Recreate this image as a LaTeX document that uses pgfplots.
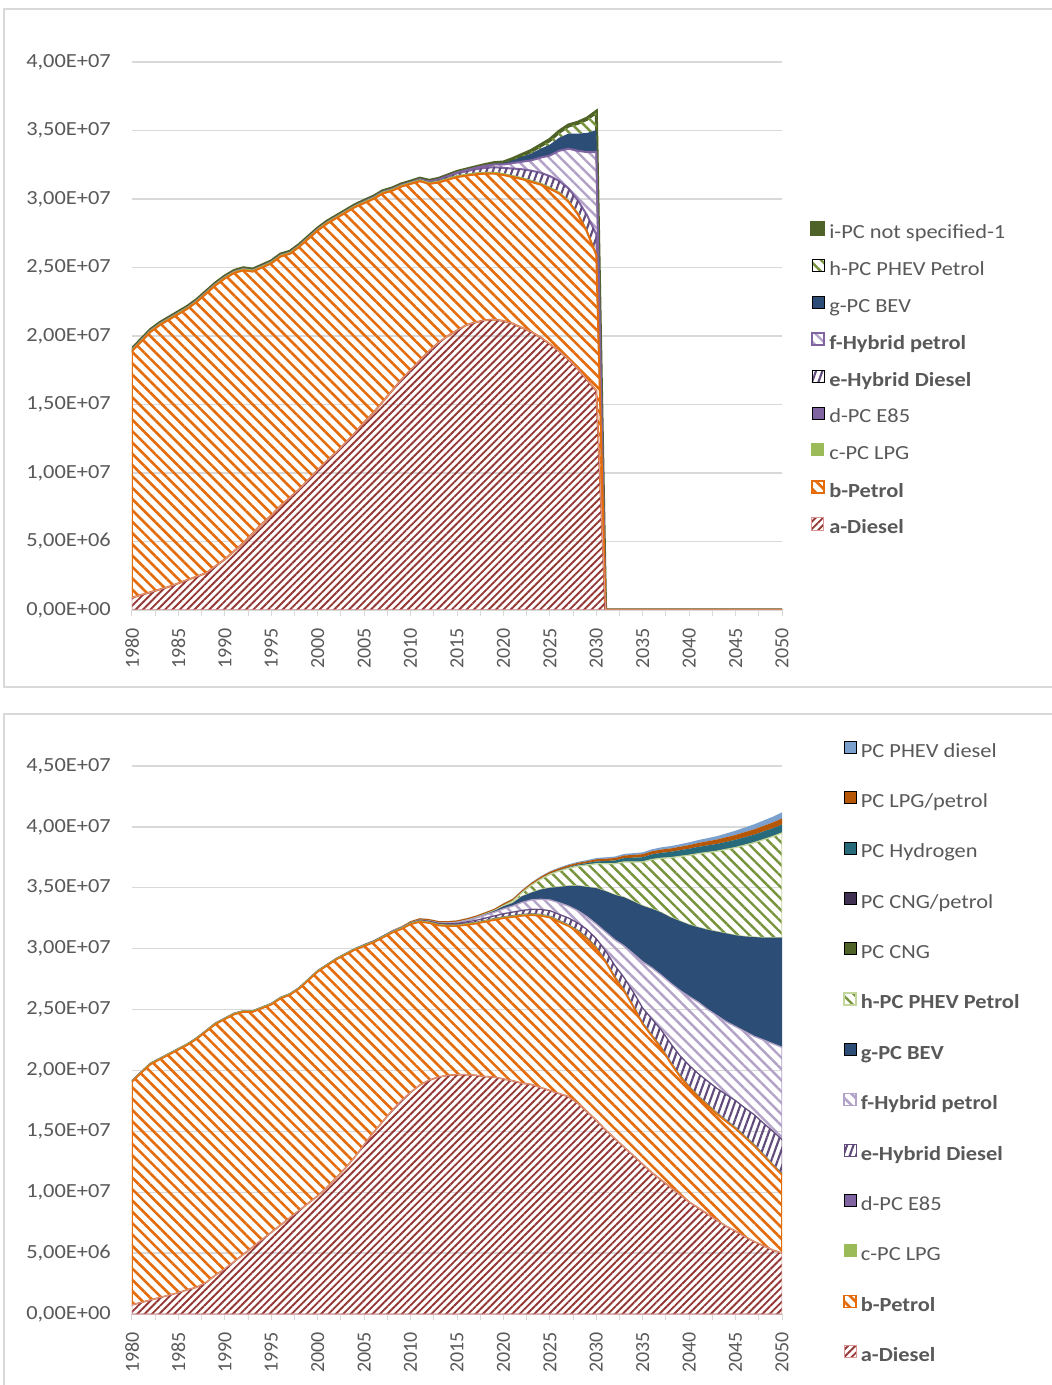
\documentclass[border=0pt]{standalone}
\usepackage{pgfplots}
\pgfplotsset{compat=1.18}
\usepackage{pgfplotstable}
\usetikzlibrary{patterns.meta}
\usepackage{fontspec}
\setmainfont{Carlito}
\newfontfamily\wide{Carlito}[FakeStretch=1.12]

\definecolor{txt}{HTML}{595959}
\definecolor{gridc}{HTML}{D9D9D9}
\definecolor{dieselC}{HTML}{953735}
\definecolor{dieselB}{HTML}{D99694}
\definecolor{petrolC}{HTML}{E46C0A}
\definecolor{lpgC}{HTML}{9BBB59}
\definecolor{e85C}{HTML}{8064A2}
\definecolor{hdC}{HTML}{604A7B}
\definecolor{hpC}{HTML}{B3A2C7}
\definecolor{bevC}{HTML}{2C4D75}
\definecolor{phC}{HTML}{77933C}
\definecolor{phB}{HTML}{C3D69B}
\definecolor{nsC}{HTML}{4F6228}
\definecolor{cngC}{HTML}{4F6228}
\definecolor{cngpC}{HTML}{403152}
\definecolor{h2C}{HTML}{276A7C}
\definecolor{lpgpC}{HTML}{B65708}
\definecolor{phdC}{HTML}{7BA0CD}

% Chart 1 (values in millions)
\pgfplotstableread{
year D P LPG E85 HD HP BEV PH NS
1980 0.9 18.0 0.1 0 0 0 0 0 0.08
1981 1.1 18.5 0.1 0 0 0 0 0 0.08
1982 1.3 19.0 0.1 0 0 0 0 0 0.08
1983 1.5 19.3 0.1 0 0 0 0 0 0.08
1984 1.7 19.5 0.1 0 0 0 0 0 0.08
1985 1.95 19.65 0.1 0 0 0 0 0 0.08
1986 2.2 19.8 0.1 0 0 0 0 0 0.08
1987 2.45 20.05 0.1 0 0 0 0 0 0.08
1988 2.7 20.4 0.1 0 0 0 0 0 0.08
1989 3.2 20.5 0.1 0 0 0 0 0 0.08
1990 3.7 20.5 0.1 0 0 0 0 0 0.08
1991 4.3 20.3 0.1 0 0 0 0 0 0.08
1992 4.9 19.9 0.1 0 0 0 0 0 0.08
1993 5.6 19.1 0.1 0 0 0 0 0 0.08
1994 6.3 18.7 0.1 0 0 0 0 0 0.08
1995 6.9 18.4 0.1 0 0 0 0 0 0.08
1996 7.6 18.2 0.1 0 0 0 0 0 0.08
1997 8.2 17.8 0.1 0 0 0 0 0 0.08
1998 8.8 17.7 0.1 0 0 0 0 0 0.08
1999 9.5 17.6 0.1 0 0 0 0 0 0.08
2000 10.2 17.5 0.1 0 0 0 0 0 0.08
2001 10.9 17.3 0.1 0 0 0 0 0 0.08
2002 11.5 17.1 0.1 0 0 0 0 0 0.08
2003 12.2 16.8 0.1 0 0 0 0 0 0.08
2004 12.9 16.5 0.1 0 0 0 0 0 0.08
2005 13.7 16.0 0.1 0.02 0 0 0 0 0.08
2006 14.4 15.6 0.1 0.02 0 0 0 0 0.08
2007 15.2 15.2 0.1 0.02 0 0 0 0 0.08
2008 16.0 14.6 0.1 0.02 0 0 0 0 0.08
2009 16.8 14.1 0.1 0.02 0 0 0 0 0.08
2010 17.5 13.6 0.1 0.02 0 0 0 0 0.08
2011 18.2 13.1 0.1 0.02 0.02 0 0 0 0.08
2012 18.9 12.2 0.1 0.02 0.05 0.01 0 0 0.08
2013 19.5 11.7 0.1 0.02 0.08 0.02 0 0 0.08
2014 20.0 11.4 0.1 0.02 0.12 0.03 0 0 0.08
2015 20.4 11.2 0.1 0.02 0.16 0.05 0 0 0.08
2016 20.8 10.9 0.1 0.02 0.2 0.08 0 0 0.08
2017 21.0 10.8 0.1 0.02 0.25 0.1 0 0 0.08
2018 21.15 10.7 0.1 0.02 0.3 0.15 0.01 0 0.08
2019 21.2 10.65 0.1 0.02 0.35 0.2 0.05 0 0.08
2020 21.1 10.65 0.1 0.02 0.4 0.25 0.1 0 0.08
2021 20.9 10.7 0.1 0.02 0.5 0.4 0.2 0.05 0.08
2022 20.6 10.85 0.1 0.02 0.6 0.55 0.35 0.1 0.08
2023 20.3 10.95 0.1 0.02 0.7 0.75 0.5 0.15 0.08
2024 19.9 11.15 0.1 0.02 0.75 1.1 0.65 0.2 0.08
2025 19.4 11.35 0.1 0.02 0.8 1.5 0.8 0.3 0.08
2026 18.9 11.5 0.1 0.02 0.8 2.2 0.95 0.4 0.08
2027 18.3 11.5 0.1 0.02 0.85 2.9 1.1 0.55 0.08
2028 17.6 11.3 0.1 0.02 0.9 3.6 1.25 0.75 0.08
2029 16.8 10.8 0.1 0.02 1.1 4.6 1.4 1.0 0.08
2030 16.0 9.9 0.1 0.02 1.4 6.0 1.6 1.3 0.08
2031 0 0 0 0 0 0 0 0 0
2050 0 0 0 0 0 0 0 0 0
}\tabA

% Chart 2 (values in millions)
\pgfplotstableread{
year D P LPG E85 HD HP BEV PH CNG CNGP H2 LPGP PHD
1980 0.75 18.3 0.1 0 0 0 0 0 0 0 0 0 0
1981 0.95 18.85 0.1 0 0 0 0 0 0 0 0 0 0
1982 1.15 19.35 0.1 0 0 0 0 0 0 0 0 0 0
1983 1.35 19.55 0.1 0 0 0 0 0 0 0 0 0 0
1984 1.55 19.75 0.1 0 0 0 0 0 0 0 0 0 0
1985 1.75 19.95 0.1 0 0 0 0 0 0 0 0 0 0
1986 2.0 20.1 0.1 0 0 0 0 0 0 0 0 0 0
1987 2.2 20.4 0.1 0 0 0 0 0 0 0 0 0 0
1988 2.6 20.6 0.1 0 0 0 0 0 0 0 0 0 0
1989 3.2 20.6 0.1 0 0 0 0 0 0 0 0 0 0
1990 3.7 20.5 0.1 0 0 0 0 0 0 0 0 0 0
1991 4.3 20.3 0.1 0 0 0 0 0 0 0 0 0 0
1992 4.9 19.9 0.1 0 0 0 0 0 0 0 0 0 0
1993 5.5 19.3 0.1 0 0 0 0 0 0 0 0 0 0
1994 6.1 19.0 0.1 0 0 0 0 0 0 0 0 0 0
1995 6.7 18.7 0.1 0 0 0 0 0 0 0 0 0 0
1996 7.3 18.6 0.1 0 0 0 0 0 0 0 0 0 0
1997 7.9 18.3 0.1 0 0 0 0 0 0 0 0 0 0
1998 8.5 18.2 0.1 0 0 0 0 0 0 0 0 0 0
1999 9.1 18.3 0.1 0 0 0 0 0 0 0 0 0 0
2000 9.7 18.4 0.1 0 0 0 0 0 0 0 0 0 0
2001 10.4 18.2 0.1 0 0 0 0 0 0 0 0 0 0
2002 11.2 17.9 0.1 0 0 0 0 0 0 0 0 0 0
2003 12.0 17.5 0.1 0 0 0 0 0 0 0 0 0 0
2004 12.9 17.0 0.1 0 0 0 0 0 0 0 0 0 0
2005 13.9 16.3 0.1 0.02 0 0 0 0 0.03 0 0 0 0
2006 14.9 15.6 0.1 0.02 0 0 0 0 0.03 0 0 0 0
2007 15.8 15.1 0.1 0.02 0 0 0 0 0.03 0 0 0 0
2008 16.7 14.6 0.1 0.02 0 0 0 0 0.03 0 0 0.05 0
2009 17.5 14.1 0.1 0.02 0 0 0 0 0.03 0 0 0.08 0
2010 18.2 13.8 0.1 0.02 0 0 0 0 0.03 0.01 0 0.1 0
2011 18.8 13.4 0.1 0.02 0.02 0 0 0 0.03 0.01 0 0.12 0
2012 19.2 12.9 0.1 0.02 0.04 0.01 0 0 0.03 0.01 0 0.12 0
2013 19.45 12.45 0.1 0.02 0.06 0.03 0 0 0.03 0.01 0 0.12 0
2014 19.6 12.25 0.1 0.02 0.08 0.05 0 0 0.03 0.01 0 0.12 0
2015 19.65 12.2 0.1 0.02 0.1 0.08 0.01 0 0.03 0.01 0 0.12 0
2016 19.65 12.3 0.1 0.02 0.12 0.12 0.02 0 0.03 0.01 0 0.12 0
2017 19.6 12.45 0.1 0.02 0.15 0.18 0.04 0 0.03 0.01 0 0.12 0
2018 19.5 12.7 0.1 0.02 0.18 0.25 0.07 0 0.03 0.01 0 0.12 0
2019 19.45 12.9 0.1 0.02 0.21 0.3 0.12 0.01 0.03 0.01 0 0.12 0
2020 19.3 13.2 0.1 0.02 0.25 0.4 0.2 0.05 0.03 0.01 0 0.15 0.01
2021 19.15 13.45 0.1 0.02 0.28 0.5 0.25 0.15 0.03 0.01 0 0.15 0.02
2022 18.95 13.75 0.1 0.02 0.32 0.66 0.5 0.3 0.03 0.01 0 0.15 0.03
2023 18.85 13.9 0.1 0.02 0.36 0.77 0.6 0.6 0.03 0.01 0 0.15 0.04
2024 18.6 14.1 0.1 0.02 0.4 0.83 0.8 0.85 0.03 0.01 0 0.15 0.05
2025 18.35 14.2 0.1 0.02 0.45 0.88 1.0 1.1 0.03 0.01 0.02 0.15 0.05
2026 18.1 14.1 0.1 0.02 0.5 0.95 1.3 1.3 0.03 0.01 0.04 0.15 0.06
2027 17.85 14.0 0.1 0.02 0.55 0.98 1.65 1.45 0.03 0.01 0.06 0.15 0.07
2028 17.3 14.1 0.1 0.02 0.6 1.0 2.05 1.6 0.03 0.01 0.09 0.15 0.08
2029 16.6 14.2 0.1 0.02 0.65 1.05 2.45 1.8 0.03 0.01 0.12 0.15 0.09
2030 15.9 14.1 0.1 0.02 0.7 1.2 2.95 2.0 0.03 0.01 0.15 0.18 0.1
2031 15.1 13.8 0.1 0.02 0.8 1.55 3.35 2.25 0.03 0.01 0.19 0.19 0.11
2032 14.4 13.2 0.1 0.02 0.9 2.1 3.7 2.55 0.03 0.01 0.23 0.2 0.12
2033 13.7 12.8 0.1 0.02 1.0 2.6 4.0 2.9 0.03 0.01 0.27 0.22 0.13
2034 13.0 12.2 0.1 0.02 1.1 3.15 4.3 3.25 0.03 0.01 0.31 0.23 0.14
2035 12.3 11.5 0.1 0.02 1.2 3.8 4.6 3.6 0.03 0.01 0.35 0.25 0.15
2036 11.6 11.2 0.1 0.02 1.3 4.2 4.85 4.05 0.03 0.01 0.38 0.26 0.16
2037 11.0 10.8 0.1 0.02 1.4 4.5 5.15 4.45 0.03 0.01 0.41 0.27 0.18
2038 10.4 10.2 0.1 0.02 1.5 4.95 5.4 4.9 0.03 0.01 0.44 0.28 0.19
2039 9.8 9.7 0.1 0.02 1.6 5.35 5.7 5.3 0.03 0.01 0.47 0.29 0.2
2040 9.2 9.4 0.1 0.02 1.7 5.65 5.9 5.7 0.03 0.01 0.5 0.3 0.22
2041 8.7 9.1 0.1 0.02 1.8 5.88 6.15 6.05 0.03 0.01 0.52 0.32 0.24
2042 8.2 8.9 0.1 0.02 1.9 5.88 6.55 6.35 0.03 0.01 0.54 0.34 0.26
2043 7.7 8.7 0.1 0.02 2.0 5.98 6.9 6.6 0.03 0.01 0.56 0.36 0.28
2044 7.2 8.6 0.1 0.02 2.1 5.98 7.25 6.9 0.03 0.01 0.58 0.38 0.31
2045 6.8 8.4 0.1 0.02 2.2 6.08 7.5 7.2 0.03 0.01 0.6 0.4 0.35
2046 6.35 8.15 0.1 0.02 2.3 6.28 7.8 7.5 0.03 0.01 0.61 0.42 0.38
2047 5.95 7.85 0.1 0.02 2.45 6.43 8.15 7.75 0.03 0.01 0.62 0.44 0.41
2048 5.6 7.4 0.1 0.02 2.55 6.83 8.4 8.05 0.03 0.01 0.63 0.46 0.44
2049 5.25 6.95 0.1 0.02 2.7 7.18 8.7 8.3 0.03 0.01 0.64 0.48 0.47
2050 5.0 6.4 0.1 0.02 2.8 7.58 9.0 8.6 0.03 0.01 0.65 0.5 0.5
}\tabB

\pgfplotsset{
  mychart/.style={
    scale only axis, width=487.5pt, height=411pt,
    xmin=1980, xmax=2050, ymin=0,
    stack plots=y, no markers,
    axis x line*=bottom, axis y line*=left,
    x axis line style={draw=gridc, line width=1pt},
    y axis line style={draw=none},
    xtick={1980,1985,...,2050},
    minor xtick={1982.5,1987.5,...,2047.5},
    xtick align=outside, ytick align=inside,
    major tick length=4.5pt, minor tick length=4.5pt,
    xtick style={draw=gridc, line width=0.75pt},
    every minor tick/.append style={draw=gridc, line width=0.75pt},
    ytick style={draw=none},
    ymajorgrids, grid style={draw=gridc, line width=1pt},
    tick label style={font=\fontsize{15}{18}\selectfont, text=txt},
    x tick label style={rotate=90, anchor=east, inner sep=0pt,
      /pgf/number format/1000 sep={}, /pgf/number format/assume math mode=true},
    xticklabel shift=9pt,
    y tick label style={anchor=east, inner sep=0pt, font=\wide\fontsize{15}{18}\selectfont},
    yticklabel shift=15.75pt,
    legend image code/.code={\draw[##1] (0pt,-1pt) rectangle (9pt,8pt);},
    reverse legend,
    legend cell align=left,
    legend style={draw=none, fill=none, font=\wide\fontsize{15}{18}\selectfont,
      text=txt, inner sep=0pt, anchor=north west,
      nodes={inner sep=0pt, text height=11pt, text depth=3pt},
      /tikz/every odd column/.append style={column sep=3pt}},
  }
}

\begin{document}
\begin{tikzpicture}
\useasboundingbox (0pt,0pt) rectangle (789pt,1038.75pt);
\fill[white] (0pt,0pt) rectangle (789pt,1038.75pt);
\draw[gridc, line width=1pt] (3pt,523.5pt) rectangle (795pt,1032pt);
\draw[gridc, line width=1pt] (3pt,-6pt) rectangle (795pt,503.25pt);

% ---------- Chart 1 ----------
\begin{axis}[mychart, at={(99pt,581.25pt)}, anchor=south west,
  ymax=40, ytick={0,5,...,40},
  yticklabels={{0,00E+00},{5,00E+06},{1,00E+07},{1,50E+07},{2,00E+07},{2,50E+07},{3,00E+07},{3,50E+07},{4,00E+07}},
  legend style={at={(1.0431,0.7099)}, /tikz/row sep=12.3pt}]
\addplot[draw=dieselB, line width=0.75pt, pattern={Lines[angle=45,distance=3.9pt,line width=1.4pt]}, pattern color=dieselC] table[x=year,y=D]{\tabA} \closedcycle;
\addlegendentry{\textbf{a-Diesel}}
\addplot[draw=petrolC, line width=1.5pt, pattern={Lines[angle=-45,distance=6pt,line width=1.95pt]}, pattern color=petrolC] table[x=year,y=P]{\tabA} \closedcycle;
\addlegendentry{\textbf{b-Petrol}}
\addplot[draw=lpgC, line width=0.75pt, fill=lpgC] table[x=year,y=LPG]{\tabA} \closedcycle;
\addlegendentry{c-PC LPG}
\addplot[draw=none, fill=e85C] table[x=year,y=E85]{\tabA} \closedcycle;
\addlegendentry{d-PC E85}
\addplot[draw=none, pattern={Lines[angle=70,distance=4.5pt,line width=1.6pt]}, pattern color=hdC] table[x=year,y=HD]{\tabA} \closedcycle;
\addlegendentry{\textbf{e-Hybrid Diesel}}
\addplot[draw=e85C, line width=1.5pt, pattern={Lines[angle=-45,distance=6pt,line width=1.8pt]}, pattern color=hpC] table[x=year,y=HP]{\tabA} \closedcycle;
\addlegendentry{\textbf{f-Hybrid petrol}}
\addplot[draw=none, fill=bevC] table[x=year,y=BEV]{\tabA} \closedcycle;
\addlegendentry{g-PC BEV}
\addplot[draw=none, pattern={Lines[angle=-45,distance=6pt,line width=1.8pt]}, pattern color=phC] table[x=year,y=PH]{\tabA} \closedcycle;
\addlegendentry{h-PC PHEV Petrol}
\addplot[draw=nsC, line width=2.25pt, fill=nsC] table[x=year,y=NS]{\tabA} \closedcycle;
\addlegendentry{i-PC not specified-1}
\end{axis}

% ---------- Chart 2 ----------
\begin{axis}[mychart, at={(99pt,53.25pt)}, anchor=south west,
  ymax=45, ytick={0,5,...,45},
  yticklabels={{0,00E+00},{5,00E+06},{1,00E+07},{1,50E+07},{2,00E+07},{2,50E+07},{3,00E+07},{3,50E+07},{4,00E+07},{4,50E+07}},
  legend style={at={(1.0938,1.0456)}, /tikz/row sep=22.45pt}]
\addplot[draw=dieselB, line width=0.75pt, pattern={Lines[angle=45,distance=3.9pt,line width=1.4pt]}, pattern color=dieselC] table[x=year,y=D]{\tabB} \closedcycle;
\addlegendentry{\textbf{a-Diesel}}
\addplot[draw=petrolC, line width=1.2pt, pattern={Lines[angle=-45,distance=6pt,line width=1.95pt]}, pattern color=petrolC] table[x=year,y=P]{\tabB} \closedcycle;
\addlegendentry{\textbf{b-Petrol}}
\addplot[draw=lpgC, line width=0.5pt, fill=lpgC] table[x=year,y=LPG]{\tabB} \closedcycle;
\addlegendentry{c-PC LPG}
\addplot[draw=none, fill=e85C] table[x=year,y=E85]{\tabB} \closedcycle;
\addlegendentry{d-PC E85}
\addplot[draw=hdC, line width=0.75pt, pattern={Lines[angle=70,distance=4.5pt,line width=1.6pt]}, pattern color=hdC] table[x=year,y=HD]{\tabB} \closedcycle;
\addlegendentry{\textbf{e-Hybrid Diesel}}
\addplot[draw=hpC, line width=1pt, pattern={Lines[angle=-45,distance=6pt,line width=1.8pt]}, pattern color=hpC] table[x=year,y=HP]{\tabB} \closedcycle;
\addlegendentry{\textbf{f-Hybrid petrol}}
\addplot[draw=none, fill=bevC] table[x=year,y=BEV]{\tabB} \closedcycle;
\addlegendentry{\textbf{g-PC BEV}}
\addplot[draw=phB, line width=1pt, pattern={Lines[angle=-45,distance=6pt,line width=1.8pt]}, pattern color=phC] table[x=year,y=PH]{\tabB} \closedcycle;
\addlegendentry{\textbf{h-PC PHEV Petrol}}
\addplot[draw=none, fill=cngC] table[x=year,y=CNG]{\tabB} \closedcycle;
\addlegendentry{PC CNG}
\addplot[draw=none, fill=cngpC] table[x=year,y=CNGP]{\tabB} \closedcycle;
\addlegendentry{PC CNG/petrol}
\addplot[draw=none, fill=h2C] table[x=year,y=H2]{\tabB} \closedcycle;
\addlegendentry{PC Hydrogen}
\addplot[draw=none, fill=lpgpC] table[x=year,y=LPGP]{\tabB} \closedcycle;
\addlegendentry{PC LPG/petrol}
\addplot[draw=none, fill=phdC] table[x=year,y=PHD]{\tabB} \closedcycle;
\addlegendentry{PC PHEV diesel}
\end{axis}
\end{tikzpicture}
\end{document}
